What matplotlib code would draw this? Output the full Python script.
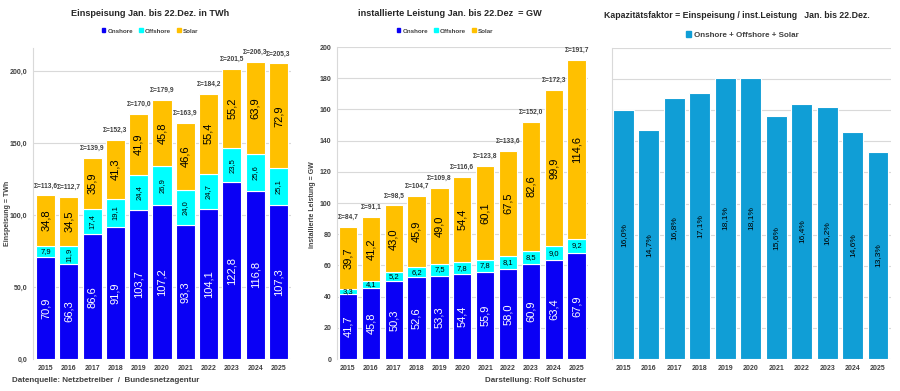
import matplotlib
matplotlib.use('Agg')
import matplotlib.pyplot as plt
from matplotlib import font_manager
from matplotlib.patches import Patch
import numpy as np

# Data (Jan. bis 22.Dez.)
years = ['2015', '2016', '2017', '2018', '2019', '2020', '2021', '2022', '2023', '2024', '2025']

# Einspeisung in TWh
feed_onshore = [70.9, 66.3, 86.6, 91.9, 103.7, 107.2, 93.3, 104.1, 122.8, 116.8, 107.3]
feed_offshore = [7.9, 11.9, 17.4, 19.1, 24.4, 26.9, 24.0, 24.7, 23.5, 25.6, 25.1]
feed_solar = [34.8, 34.5, 35.9, 41.3, 41.9, 45.8, 46.6, 55.4, 55.2, 63.9, 72.9]

# installierte Leistung in GW
cap_onshore = [41.7, 45.8, 50.3, 52.6, 53.3, 54.4, 55.9, 58.0, 60.9, 63.4, 67.9]
cap_offshore = [3.3, 4.1, 5.2, 6.2, 7.5, 7.8, 7.8, 8.1, 8.5, 9.0, 9.2]
cap_solar = [39.7, 41.2, 43.0, 45.9, 49.0, 54.4, 60.1, 67.5, 82.6, 99.9, 114.6]

# Kapazitätsfaktor in %
cap_factor = [16.0, 14.7, 16.8, 17.1, 18.1, 18.1, 15.6, 16.4, 16.2, 14.6, 13.3]

c_on = '#0A00F5'
c_off = '#00FFFF'
c_sol = '#FFC000'
c_cf = '#109ED6'
grid_c = '#D9D9D9'
txt_c = '#404040'

names = {f.name for f in font_manager.fontManager.ttflist}
base = 'Liberation Sans'
narrow = 'Liberation Sans Narrow' if 'Liberation Sans Narrow' in names else base
plt.rcParams['font.family'] = [base, 'DejaVu Sans']


def de(v, fmt='{:.1f}'):
    return fmt.format(v).replace('.', ',')


def box(l, r, t, b):
    return [l / 900, (391 - b) / 391, (r - l) / 900, (b - t) / 391]


fig = plt.figure(figsize=(9, 3.91), dpi=100)
x = np.arange(len(years))


def style_axis(ax, ymax, step, fmt):
    ax.set_ylim(0, ymax)
    ax.set_yticks(np.arange(0, ymax + 0.01, step))
    ax.set_yticklabels([fmt(v) for v in np.arange(0, ymax + 0.01, step)],
                       fontsize=5, fontweight='bold', color=txt_c)
    ax.set_xticks(x)
    ax.set_xticklabels(years, fontsize=5, fontweight='bold', color=txt_c)
    ax.tick_params(length=0, pad=4)
    ax.grid(axis='y', color=grid_c, lw=0.8)
    ax.set_axisbelow(True)
    for s in ['top', 'right', 'bottom']:
        ax.spines[s].set_visible(False)
    ax.spines['left'].set_color(grid_c)


def stacked(ax, on, off, sol, w, off_rot, lbl_size):
    on = np.array(on)
    off = np.array(off)
    sol = np.array(sol)
    kw = dict(width=w, edgecolor='white', linewidth=0.8)
    ax.bar(x, on, color=c_on, **kw)
    ax.bar(x, off, bottom=on, color=c_off, **kw)
    ax.bar(x, sol, bottom=on + off, color=c_sol, **kw)
    tot = on + off + sol
    for i in range(len(x)):
        ax.text(x[i], on[i] / 2, de(on[i]), rotation=90, ha='center', va='center',
                color='white', fontsize=lbl_size, family=narrow)
        ax.text(x[i], on[i] + off[i] / 2, de(off[i]), rotation=off_rot[i],
                ha='center', va='center', color='black', fontsize=5.5, family=narrow)
        ax.text(x[i], on[i] + off[i] + sol[i] / 2, de(sol[i]), rotation=90,
                ha='center', va='center', color='black', fontsize=lbl_size, family=narrow)
        ax.text(x[i], tot[i] + tot.max() * 0.02, '\u03a3=' + de(tot[i]), ha='center',
                va='bottom', fontsize=4.8, fontweight='bold', color=txt_c)


def legend3(cx, cy):
    handles = [Patch(color=c_on, label='Onshore'), Patch(color=c_off, label='Offshore'),
               Patch(color=c_sol, label='Solar')]
    fig.legend(handles=handles, loc='center', bbox_to_anchor=(cx / 900, 1 - cy / 391),
               ncol=3, frameon=False, prop={'size': 4.5, 'weight': 'bold'},
               handlelength=0.6, handleheight=0.6, handletextpad=0.3, columnspacing=1.0,
               labelcolor=txt_c)


# Chart 1: Einspeisung
ax1 = fig.add_axes(box(33, 291, 48, 359))
stacked(ax1, feed_onshore, feed_offshore, feed_solar, 0.82,
        [0] + [90] * 10, 8)
style_axis(ax1, 216, 50, lambda v: de(v))
ax1.set_yticks(np.arange(0, 201, 50))
ax1.set_yticklabels([de(v) for v in np.arange(0, 201, 50)], fontsize=5,
                    fontweight='bold', color=txt_c)
ax1.set_xlim(-0.54, 10.54)
fig.text(8 / 900, 1 - 213 / 391, 'Einspeisung = TWh', rotation=90, ha='center',
         va='center', fontsize=5, fontweight='bold', color=txt_c)
fig.text(150 / 900, 1 - 13 / 391, 'Einspeisung Jan. bis 22.Dez. in TWh', ha='center',
         va='center', fontsize=6.6, fontweight='bold', color='#262626')
legend3(150, 31)
fig.text(12 / 900, 1 - 381 / 391, 'Datenquelle: Netzbetreiber  /  Bundesnetzagentur',
         ha='left', va='center', fontsize=5.8, fontweight='bold', color=txt_c)

# Chart 2: installierte Leistung
ax2 = fig.add_axes(box(337, 588, 47, 359))
stacked(ax2, cap_onshore, cap_offshore, cap_solar, 0.8, [0] * 11, 8)
style_axis(ax2, 200, 20, lambda v: f'{v:.0f}')
ax2.set_xlim(-0.48, 10.5)
fig.text(313 / 900, 1 - 205 / 391, 'installierte Leistung = GW', rotation=90, ha='center',
         va='center', fontsize=5, fontweight='bold', color=txt_c)
fig.text(450 / 900, 1 - 13 / 391, 'installierte Leistung Jan. bis 22.Dez  = GW',
         ha='center', va='center', fontsize=6.6, fontweight='bold', color='#262626')
legend3(445, 31)
fig.text(586 / 900, 1 - 381 / 391, 'Darstellung: Rolf Schuster', ha='right', va='center',
         fontsize=5.8, fontweight='bold', color=txt_c)

# Chart 3: Kapazitätsfaktor
ax3 = fig.add_axes(box(612, 891, 48, 359))
ax3.bar(x, cap_factor, width=0.82, color=c_cf, edgecolor='white', linewidth=0.8)
for i, v in enumerate(cap_factor):
    ax3.text(x[i], v / 2, de(v) + '%', rotation=90, ha='center', va='center',
             fontsize=6, color='black')
style_axis(ax3, 20, 2, lambda v: '')
ax3.set_xlim(-0.45, 10.51)
fig.text(604 / 900, 1 - 15 / 391,
         'Kapazitätsfaktor = Einspeisung / inst.Leistung   Jan. bis 22.Dez.',
         ha='left', va='center', fontsize=6.3, fontweight='bold', color='#262626')
fig.legend(handles=[Patch(color=c_cf, label='Onshore + Offshore + Solar')], loc='center',
           bbox_to_anchor=(742 / 900, 1 - 35 / 391), frameon=False,
           prop={'size': 5.8, 'weight': 'bold'}, handlelength=0.7, handleheight=0.7,
           handletextpad=0.3, labelcolor=txt_c)

fig.savefig('out.png', dpi=100)
